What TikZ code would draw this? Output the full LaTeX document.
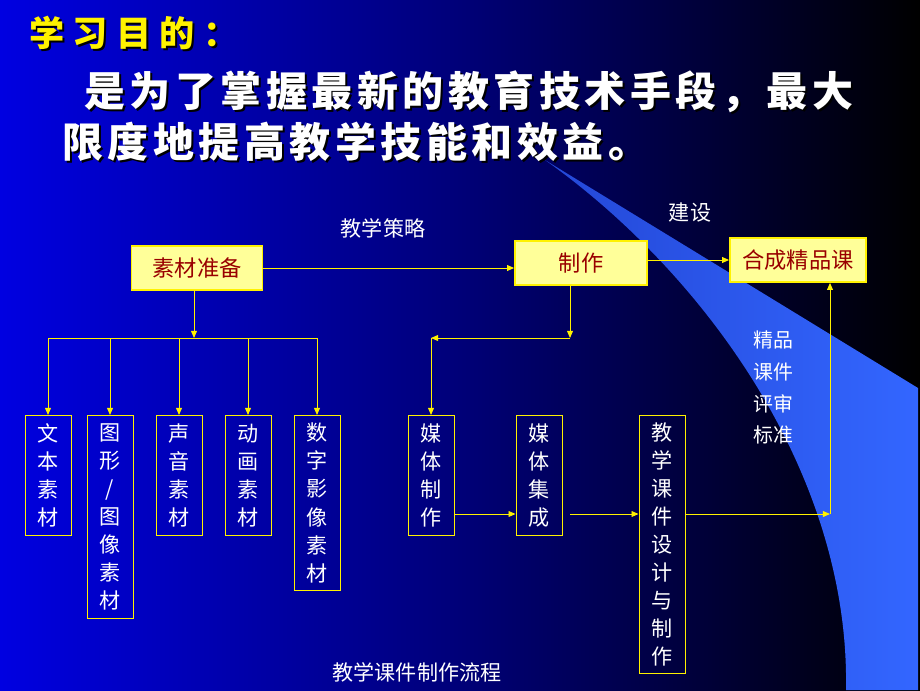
\documentclass[tikz,border=0pt]{standalone}
\usepackage{fontspec}
\newfontfamily\cjk{Noto Sans CJK SC}
\usetikzlibrary{arrows.meta}
\definecolor{bgleft}{RGB}{0,0,225}
\definecolor{bgmid}{RGB}{0,0,120}
\definecolor{swoosh}{RGB}{51,102,255}
\definecolor{boxfill}{RGB}{255,255,153}
\definecolor{boxtext}{RGB}{153,0,0}

\tikzset{
	flow/.style={draw=yellow, thick, -{Triangle[length=6pt,width=5pt]}},
	line/.style={draw=yellow, thick},
	stepbox/.style={draw=yellow, line width=1.5pt, fill=boxfill, text=boxtext, font=\cjk\fontsize{19}{22}\selectfont, inner sep=0pt},
	vbox/.style={draw=yellow, thick, text=white, font=\cjk\fontsize{18}{24}\selectfont, align=center, inner sep=0pt, anchor=north, text width=1.38cm},
	note/.style={text=white, font=\cjk\fontsize{18}{24}\selectfont, align=center},
	headline/.style={anchor=west, font=\cjk\bfseries\fontsize{30}{34}\selectfont\addfontfeature{LetterSpace=24}},
	goalline/.style={anchor=west, font=\cjk\bfseries\fontsize{35}{40}\selectfont\addfontfeature{LetterSpace=11}}
}

\begin{document}
\begin{tikzpicture}[x=0.03cm, y=-0.03cm]
	\useasboundingbox (0,0) rectangle (920,690);
	\shade[left color=bgleft, right color=black, middle color=bgmid] (0,0) rectangle (920,690);
	\shade[left color=swoosh!70!bgmid, right color=swoosh] (545,160) .. controls (700,270) and (850,470) .. (846,690) -- (918,690) -- (918,388) -- cycle;
	
	% title, with its shadow
	\node[headline, text=black] (goalshadow) at (27,35) {学习目的：};
	\node[headline, text=yellow] (goal) at (25,33) {学习目的：};
	\node[goalline, text=black] (line1shadow) at (82,94) {是为了掌握最新的教育技术手段，最大};
	\node[goalline, text=white] (line1) at (80,92) {是为了掌握最新的教育技术手段，最大};
	\node[goalline, text=black] (line2shadow) at (60,144) {限度地提高教学技能和效益。};
	\node[goalline, text=white] (line2) at (58,142) {限度地提高教学技能和效益。};
	
	% top row
	\node[stepbox, minimum width=131*0.03cm, minimum height=44*0.03cm] (sucai) at (197,268) {素材准备};
	\node[stepbox, minimum width=132*0.03cm, minimum height=44*0.03cm] (zhizuo) at (581,263) {制作};
	\node[stepbox, minimum width=136*0.03cm, minimum height=44*0.03cm] (hecheng) at (798,260) {合成精品课};
	\node[note] (celue) at (383,228) {教学策略};
	\node[note] (jianshe) at (690,213) {建设};
	\draw[flow] (sucai.east) -- (sucai.east -| zhizuo.west);
	\draw[flow] (zhizuo.east |- hecheng.west) -- (hecheng.west);
	
	% material boxes
	\node[vbox, minimum height=120*0.03cm] (wenben) at (48,415) {文\\本\\素\\材};
	\node[vbox, minimum height=203*0.03cm] (tuxing) at (110,415) {图\\形\\/\\图\\像\\素\\材};
	\node[vbox, minimum height=120*0.03cm] (shengyin) at (179,415) {声\\音\\素\\材};
	\node[vbox, minimum height=120*0.03cm] (donghua) at (248,415) {动\\画\\素\\材};
	\node[vbox, minimum height=175*0.03cm] (yingxiang) at (317,415) {数\\字\\影\\像\\素\\材};
	\coordinate (split) at (194,338);
	\draw[flow] (sucai.south -| split) -- (split);
	\draw[line] (wenben.north |- split) -- (yingxiang.north |- split);
	\foreach \b in {wenben,tuxing,shengyin,donghua,yingxiang}
		\draw[flow] (\b.north |- split) -- (\b.north);
	
	% media boxes
	\node[vbox, minimum height=120*0.03cm] (meiti) at (431,415) {媒\\体\\制\\作};
	\node[vbox, minimum height=120*0.03cm] (jicheng) at (539,415) {媒\\体\\集\\成};
	\node[vbox, minimum height=258*0.03cm] (kejian) at (662,415) {教\\学\\课\\件\\设\\计\\与\\制\\作};
	\coordinate (turn) at (570,338);
	\coordinate (gap) at (570,514);
	\coordinate (corner) at (830,514);
	\draw[flow] (zhizuo.south -| turn) -- (turn);
	\draw[flow] (turn) -- (meiti.north |- turn);
	\draw[flow] (meiti.north |- turn) -- (meiti.north);
	\draw[flow] (meiti.east |- gap) -- (jicheng.west |- gap);
	\draw[flow] (gap) -- (kejian.west |- gap);
	\draw[flow] (kejian.east |- gap) -- (corner);
	\draw[flow] (corner) -- (corner |- hecheng.south);
	
	\node[note, anchor=north, font=\cjk\fontsize{17}{27}\selectfont] (biaozhun) at (773,327) {精品\\课件\\评审\\标准};
	\node[note] (liucheng) at (417,672) {教学课件制作流程};
\end{tikzpicture}
\end{document}
